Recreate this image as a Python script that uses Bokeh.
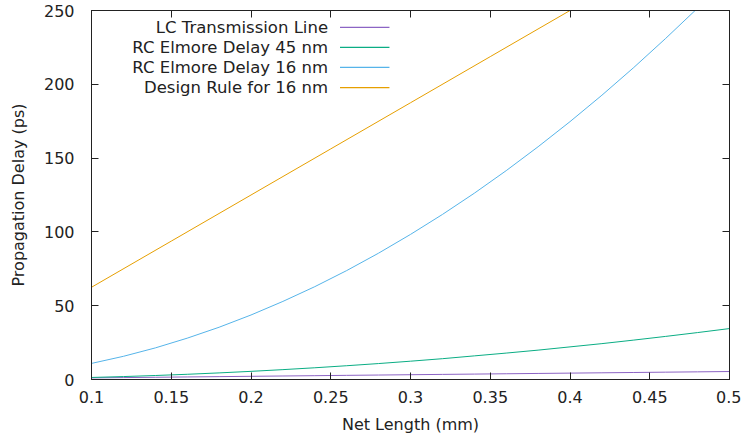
from bokeh.plotting import figure
from bokeh.models import LinearAxis, FixedTicker, Label, Arrow, Range1d, CustomJSTickFormatter
from bokeh.embed import file_html
from bokeh.resources import INLINE

# ---- data ----
x_lc = [0.10, 0.12, 0.14, 0.16, 0.18, 0.20, 0.22, 0.24, 0.26, 0.28, 0.30,
        0.32, 0.34, 0.36, 0.38, 0.40, 0.42, 0.44, 0.46, 0.48, 0.50]
lc_line = [1.08, 1.30, 1.51, 1.73, 1.94, 2.16, 2.38, 2.59, 2.81, 3.02, 3.24,
           3.46, 3.67, 3.89, 4.10, 4.32, 4.54, 4.75, 4.97, 5.18, 5.40]

x_rc45 = x_lc
rc_45nm = [1.38, 1.99, 2.70, 3.53, 4.47, 5.52, 6.68, 7.95, 9.33, 10.8, 12.4,
           14.1, 16.0, 17.9, 19.9, 22.1, 24.3, 26.7, 29.2, 31.8, 34.5]

x_rc16 = [0.10, 0.12, 0.14, 0.16, 0.18, 0.20, 0.22, 0.24, 0.26, 0.28, 0.30,
          0.32, 0.34, 0.36, 0.38, 0.40, 0.42, 0.44, 0.46, 0.48]
rc_16nm = [10.9, 15.7, 21.4, 28.0, 35.4, 43.7, 52.9, 62.9, 73.8, 85.6, 98.3,
           111.8, 126.2, 141.5, 157.7, 174.7, 192.6, 211.4, 231.1, 251.6]

x_rule = [0.10, 0.15, 0.20, 0.25, 0.30, 0.35, 0.40]
rule_16nm = [62.5, 93.75, 125.0, 156.25, 187.5, 218.75, 250.0]

series_names = ["LC Transmission Line", "RC Elmore Delay 45 nm",
                "RC Elmore Delay 16 nm", "Design Rule for 16 nm"]
series_colors = ["#8c64c4", "#0aad84", "#56b4e9", "#e69f00"]

x_ticks = [0.1, 0.15, 0.2, 0.25, 0.3, 0.35, 0.4, 0.45, 0.5]
x_tick_labels = ["0.1", "0.15", "0.2", "0.25", "0.3", "0.35", "0.4", "0.45", "0.5"]
y_ticks = [0, 50, 100, 150, 200, 250]

FONT = "DejaVu Sans"
TXT = "#222222"
FS = "16px"

p = figure(width=741, height=436, x_range=Range1d(0.1, 0.5), y_range=Range1d(0, 250),
           output_backend="svg", toolbar_location=None,
           min_border_left=91, min_border_right=12, min_border_top=10)
p.grid.visible = False
p.outline_line_color = "#222222"
p.outline_line_width = 1
p.background_fill_color = "white"
p.border_fill_color = "white"

xs = [x_lc, x_rc45, x_rc16, x_rule]
ys = [lc_line, rc_45nm, rc_16nm, rule_16nm]
for xx, yy, c in zip(xs, ys, series_colors):
    p.line(xx, yy, line_color=c, line_width=1)

def style_axis(ax, ticks, labels=True):
    ax.ticker = FixedTicker(ticks=ticks)
    ax.major_tick_in = 7
    ax.major_tick_out = 0
    ax.minor_tick_line_color = None
    ax.axis_line_color = "#222222"
    ax.major_tick_line_color = "#222222"
    if labels:
        ax.major_label_text_font = FONT
        ax.major_label_text_font_size = FS
        ax.major_label_text_color = TXT
        ax.axis_label_text_font = FONT
        ax.axis_label_text_font_size = FS
        ax.axis_label_text_font_style = "normal"
        ax.axis_label_text_color = TXT
    else:
        ax.formatter = CustomJSTickFormatter(code="return ''")
        ax.major_label_standoff = 0

xa = p.xaxis[0]
style_axis(xa, x_ticks)
xa.major_label_overrides = {t: s for t, s in zip(x_ticks, x_tick_labels)}
xa.axis_label = "Net Length (mm)"
xa.major_label_standoff = 11
xa.axis_label_standoff = 9

ya = p.yaxis[0]
style_axis(ya, y_ticks)
ya.axis_label = "Propagation Delay (ps)"
ya.major_label_standoff = 17
ya.axis_label_standoff = 13

top = LinearAxis()
style_axis(top, x_ticks, labels=False)
p.add_layout(top, "above")
right = LinearAxis()
style_axis(right, y_ticks, labels=False)
p.add_layout(right, "right")

# legend (gnuplot style: text right-aligned, sample to the right)
leg_y = [238.5, 225.0, 211.4, 197.8]
for name, c, yy in zip(series_names, series_colors, leg_y):
    p.add_layout(Label(x=0.2483, y=yy, text=name, text_align="right",
                       text_baseline="middle", text_font=FONT,
                       text_font_size="16.5px", text_color=TXT))
    p.add_layout(Arrow(end=None, start=None, x_start=0.2558, y_start=yy,
                       x_end=0.2868, y_end=yy, line_color=c, line_width=1.3))

open("out.html", "w").write(file_html(p, INLINE))
